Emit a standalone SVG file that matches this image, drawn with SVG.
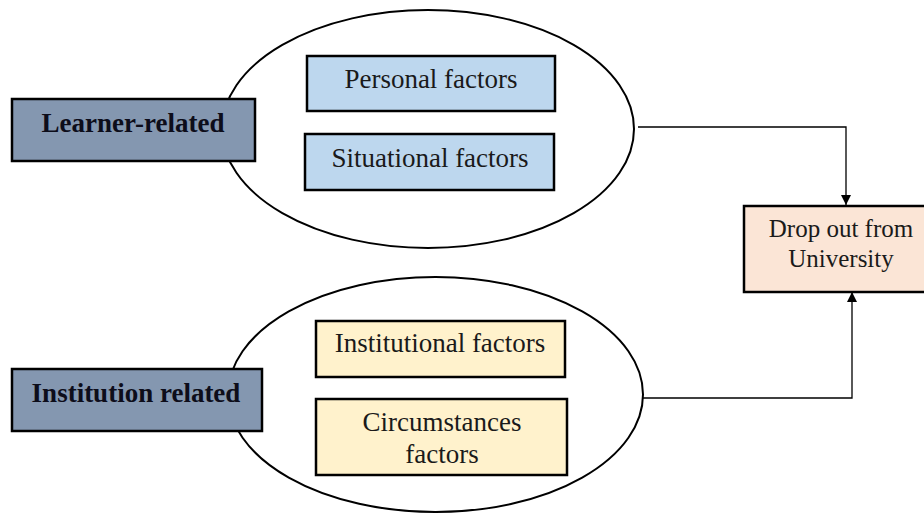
<svg xmlns="http://www.w3.org/2000/svg" width="924" height="513" viewBox="0 0 924 513">
<defs>
<style>
.ell{fill:#fff;stroke:#000;stroke-width:2}
.box{stroke:#000;stroke-width:2.5}
.cat{fill:#8497B0}
.blue{fill:#BDD7EE}
.gold{fill:#FFF2CC}
.out{fill:#FBE5D6}
.t{font-family:"Liberation Serif","Times New Roman",serif;font-size:27px;fill:#1a1a1a;text-anchor:middle}
.b{font-weight:bold;font-size:27px;fill:#0d0d1a}
.s{font-size:25px}
.ln{fill:none;stroke:#000;stroke-width:1.3}
</style>
<marker id="ah" viewBox="0 0 10 10" refX="10" refY="5" markerWidth="10" markerHeight="10" markerUnits="userSpaceOnUse" orient="auto">
<path d="M0,0 L10,5 L0,10 z" fill="#000"/>
</marker>
</defs>
<rect width="924" height="513" fill="#fff"/>
<g id="connectors">
<path class="ln" d="M638,127 H846 V205" marker-end="url(#ah)"/>
<path class="ln" d="M643,398 H852 V292" marker-end="url(#ah)"/>
</g>
<g id="learner-group">
<ellipse class="ell" cx="428" cy="129" rx="206" ry="119"/>
</g>
<g id="institution-group">
<ellipse class="ell" cx="435.5" cy="394.5" rx="207.5" ry="117.5"/>
</g>
<g id="learner-related">
<rect class="box cat" x="12" y="99" width="243" height="62"/>
<text class="t b" x="133" y="132">Learner-related</text>
</g>
<g id="personal-factors">
<rect class="box blue" x="307" y="56" width="248" height="55"/>
<text class="t" x="431" y="88">Personal factors</text>
</g>
<g id="situational-factors">
<rect class="box blue" x="305" y="134" width="249" height="56"/>
<text class="t" x="430" y="167">Situational factors</text>
</g>
<g id="institution-related">
<rect class="box cat" x="12" y="369" width="250" height="62"/>
<text class="t b" x="136" y="402">Institution related</text>
</g>
<g id="institutional-factors">
<rect class="box gold" x="316" y="321" width="249" height="56"/>
<text class="t" x="440" y="352">Institutional factors</text>
</g>
<g id="circumstances-factors">
<rect class="box gold" x="316" y="399" width="251" height="76"/>
<text class="t" x="442" y="431">Circumstances</text>
<text class="t" x="442" y="463">factors</text>
</g>
<g id="drop-out">
<rect class="box out" x="744" y="206" width="200" height="86"/>
<text class="t s" x="841" y="237">Drop out from</text>
<text class="t s" x="841" y="267">University</text>
</g>
</svg>
